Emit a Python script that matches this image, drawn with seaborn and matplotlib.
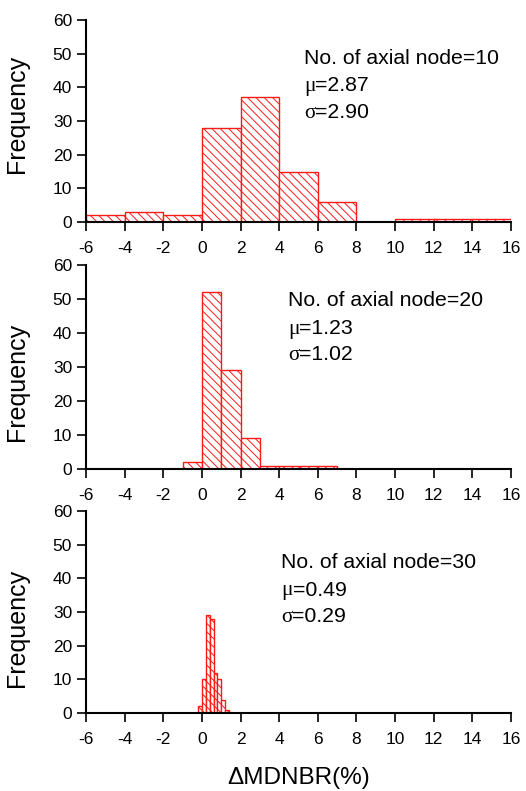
import numpy as np
import pandas as pd
import matplotlib
matplotlib.use("Agg")
import matplotlib.pyplot as plt
import seaborn as sns

# ---- data ----
edges_10 = [-6, -4, -2, 0, 2, 4, 6, 8, 10, 12, 14, 16]
counts_10 = [2, 3, 2, 28, 37, 15, 6, 0, 1, 1, 1]

edges_20 = [-1, 0, 1, 2, 3, 4, 5, 6, 7]
counts_20 = [2, 52, 29, 9, 1, 1, 1, 1]

edges_30 = [-0.2, 0.0, 0.2, 0.4, 0.6, 0.8, 1.0, 1.2, 1.4]
counts_30 = [2, 10, 29, 28, 12, 10, 4, 1]

labels = ["No. of axial node=10", "No. of axial node=20", "No. of axial node=30"]
mu_values = ["=2.87", "=1.23", "=0.49"]
sigma_values = ["=2.90", "=1.02", "=0.29"]

xticks = [-6, -4, -2, 0, 2, 4, 6, 8, 10, 12, 14, 16]
yticks = [0, 10, 20, 30, 40, 50, 60]

sns.set_style("ticks")
plt.rcParams['font.family'] = ['Liberation Sans', 'DejaVu Sans']
plt.rcParams['hatch.linewidth'] = 0.7
plt.rcParams['text.color'] = 'black'
plt.rcParams['axes.labelcolor'] = 'black'

W, H = 526, 791
fig = plt.figure(figsize=(W / 100, H / 100), dpi=100)

# axes pixel boxes: (top, bottom)
boxes = [(20, 222), (265, 469), (511, 713)]
left_px, right_px = 86, 511
# text left x and baselines (px)
text_pos = [(304, [64.5, 91, 117.5]), (288, [305.5, 334, 360.5]), (281, [568.5, 595.5, 621.5])]
ylabel_centers = [114, 382, 628]

datasets = [(edges_10, counts_10), (edges_20, counts_20), (edges_30, counts_30)]
greek_pairs = []

for i, ((top, bot), (edges, counts)) in enumerate(zip(boxes, datasets)):
    ax = fig.add_axes([left_px / W, 1 - bot / H, (right_px - left_px) / W, (bot - top) / H])
    e = np.array(edges, dtype=float)
    centers = (e[:-1] + e[1:]) / 2
    df = pd.DataFrame({"x": centers, "w": counts})
    sns.histplot(data=df, x="x", weights="w", bins=list(edges), ax=ax, alpha=1,
                 color="red", linewidth=1.0)
    for p in ax.patches:
        p.set_facecolor("white")
        p.set_edgecolor("#ff1a1a")
        p.set_hatch("\\\\\\\\")
        p.set_linewidth(1.0)
    ax.set_xlim(-6, 16)
    ax.set_ylim(0, 60)
    ax.set_xticks(xticks)
    ax.set_yticks(yticks)
    ax.set_xticklabels([str(t) for t in xticks])
    ax.set_yticklabels([str(t) for t in yticks])
    ax.tick_params(axis="both", direction="out", length=6.5, width=1.2,
                   labelsize=12.5, colors="black")
    ax.tick_params(axis="x", pad=7)
    ax.tick_params(axis="y", pad=3.5)
    for s in ["top", "right"]:
        ax.spines[s].set_visible(False)
    for s in ["left", "bottom"]:
        ax.spines[s].set_linewidth(1.5)
        ax.spines[s].set_color("black")
    ax.set_ylabel("Frequency", fontsize=18)
    ax.yaxis.set_label_coords((28.5 - left_px) / (right_px - left_px),
                              (bot - ylabel_centers[i]) / (bot - top))
    if i == 2:
        ax.set_xlabel("\u0394MDNBR(%)", fontsize=17.5)
        ax.xaxis.set_label_coords(0.5, (bot - 767) / (bot - top))
    else:
        ax.set_xlabel("")
    ax.patch.set_visible(False)

    tx, tys = text_pos[i]
    fig.text(tx / W, 1 - tys[0] / H, labels[i], fontsize=15.3, ha="left",
             va="baseline", color="black")
    for sym, val, ty in zip(["\u03bc", "\u03c3"], [mu_values[i], sigma_values[i]], tys[1:]):
        g = fig.text(tx / W, 1 - ty / H, sym, fontsize=15.3, ha="left",
                     va="baseline", color="black", family="Liberation Serif")
        greek_pairs.append((g, val, ty))

fig.canvas.draw()
renderer = fig.canvas.get_renderer()
for g, val, ty in greek_pairs:
    bb = g.get_window_extent(renderer)
    fig.text(bb.x1 / W, 1 - ty / H, val, fontsize=15.3, ha="left",
             va="baseline", color="black")

fig.savefig("out.png", dpi=100)
